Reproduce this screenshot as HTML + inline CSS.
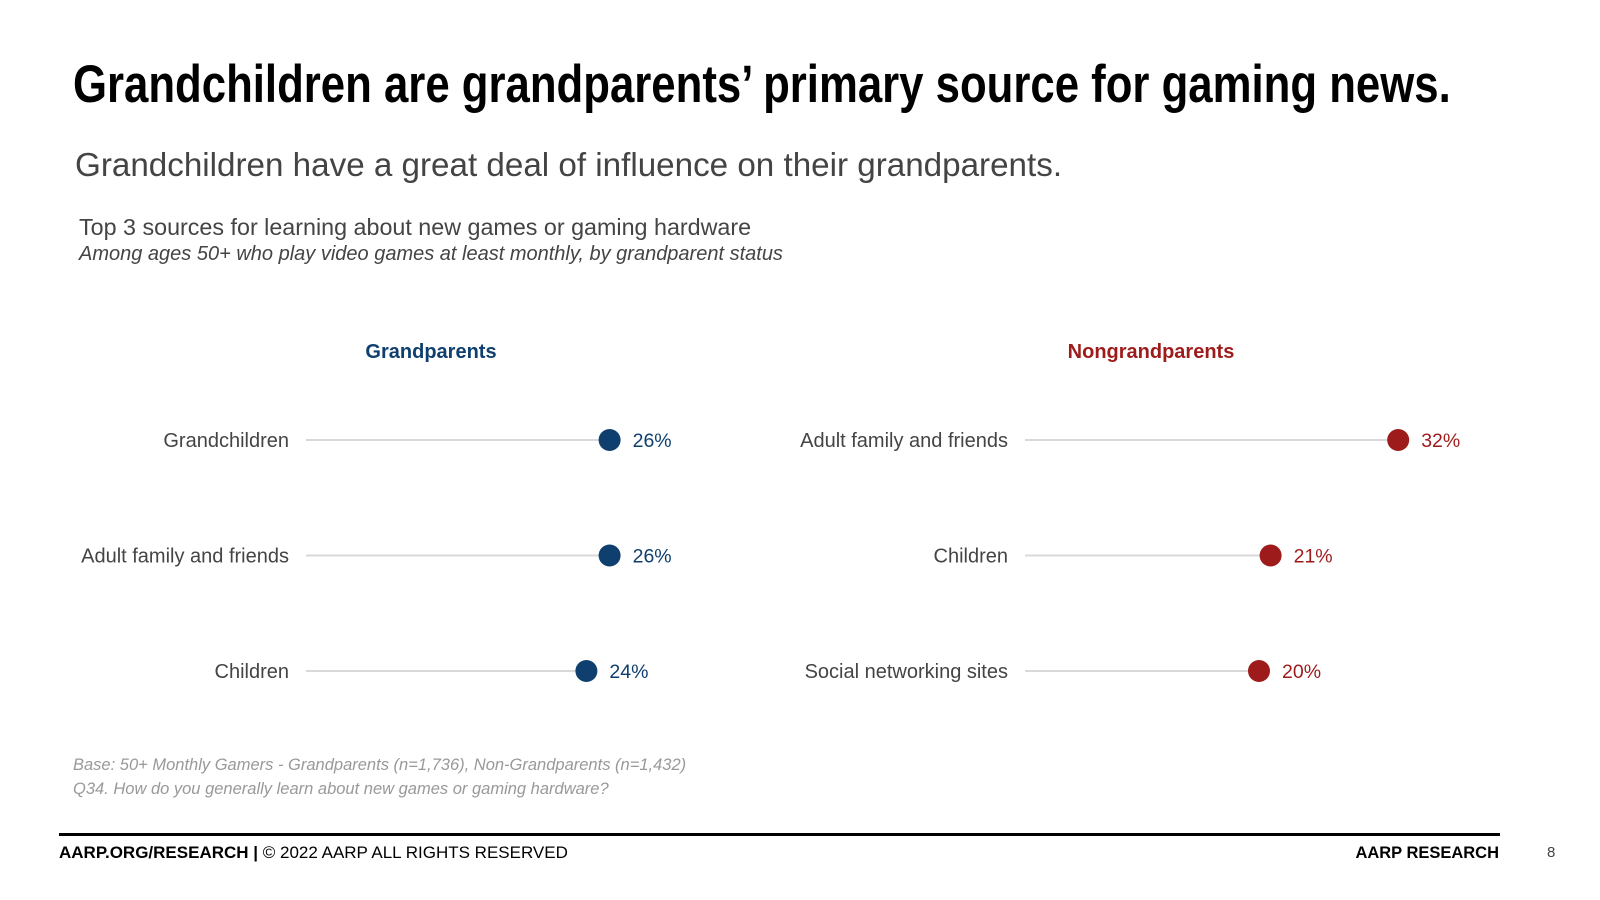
<!DOCTYPE html>
<html><head><meta charset="utf-8"><style>
body{margin:0;width:1600px;height:900px;background:#fff;overflow:hidden;font-family:"Liberation Sans",Arial,sans-serif;position:relative}
.a{position:absolute;white-space:nowrap}
</style></head><body>
<div class="a" style="left:73px;top:54px;font-weight:bold;font-size:53px;color:#000;transform:scaleX(0.825);transform-origin:left">Grandchildren are grandparents’ primary source for gaming news.</div>
<div class="a" style="left:75px;top:147px;font-size:33.2px;color:#444">Grandchildren have a great deal of influence on their grandparents.</div>
<div class="a" style="left:79px;top:214px;font-size:23.3px;color:#444">Top 3 sources for learning about new games or gaming hardware</div>
<div class="a" style="left:79px;top:243px;font-size:20px;font-style:italic;color:#444">Among ages 50+ who play video games at least monthly, by grandparent status</div>
<svg id="chart" class="a" style="left:0;top:0" width="1600" height="900"></svg>
<div class="a" style="left:73px;top:756px;font-size:16.5px;font-style:italic;color:#999">Base: 50+ Monthly Gamers - Grandparents (n=1,736), Non-Grandparents (n=1,432)</div>
<div class="a" style="left:73px;top:780px;font-size:16.5px;font-style:italic;color:#999">Q34. How do you generally learn about new games or gaming hardware?</div>
<div class="a" style="left:59px;top:833px;width:1441px;height:3px;background:#000"></div>
<div class="a" style="left:59px;top:843px;font-size:17px;color:#000"><b>AARP.ORG/RESEARCH |</b> © 2022 AARP ALL RIGHTS RESERVED</div>
<div class="a" style="right:101px;top:843px;font-size:17px;font-weight:bold;color:#000;transform:scaleX(0.97);transform-origin:right">AARP RESEARCH</div>
<div class="a" style="left:1547px;top:844px;font-size:15px;color:#444">8</div>
<script>
const gpCategories=["Grandchildren","Adult family and friends","Children"];
const gpValues=[26,26,24];
const ngCategories=["Adult family and friends","Children","Social networking sites"];
const ngValues=[32,21,20];
const panelTitles=["Grandparents","Nongrandparents"];
const NS="http://www.w3.org/2000/svg";
const svg=document.getElementById('chart');
const rowY=i=>440+i*115.5;
function mk(t,a){const e=document.createElementNS(NS,t);for(const k in a)e.setAttribute(k,a[k]);svg.appendChild(e);return e;}
function panel(cats,vals,x0,color,title,tx,key){
  const x=v=>x0+11.6*v;
  const tt=mk('text',{x:tx,y:358,'text-anchor':'middle','font-size':20,'font-weight':'bold',fill:color});
  tt.textContent=title;
  
  
  cats.forEach((c,i)=>{
    const y=rowY(i);
    const l=mk('text',{x:x0-19,y:y+7,'text-anchor':'end','font-size':20,fill:'#444'});
    l.textContent=c;
    
    
    const ln=mk('line',{x1:x0-2,x2:x(vals[i]),y1:y,y2:y,stroke:'#d9d9d9','stroke-width':2});
    
    
    const d=mk('circle',{cx:x(vals[i]),cy:y,r:11,fill:color});
    
    
    const v=mk('text',{x:x(vals[i])+23,y:y+7,'font-size':19.5,fill:color});
    v.textContent=vals[i]+'%';
    
    
  });
}
panel(gpCategories,gpValues,308,'#0f3f6e',panelTitles[0],431,'grandparents');
panel(ngCategories,ngValues,1027,'#9e1b1b',panelTitles[1],1151,'nongrandparents');
</script>
</body></html>
